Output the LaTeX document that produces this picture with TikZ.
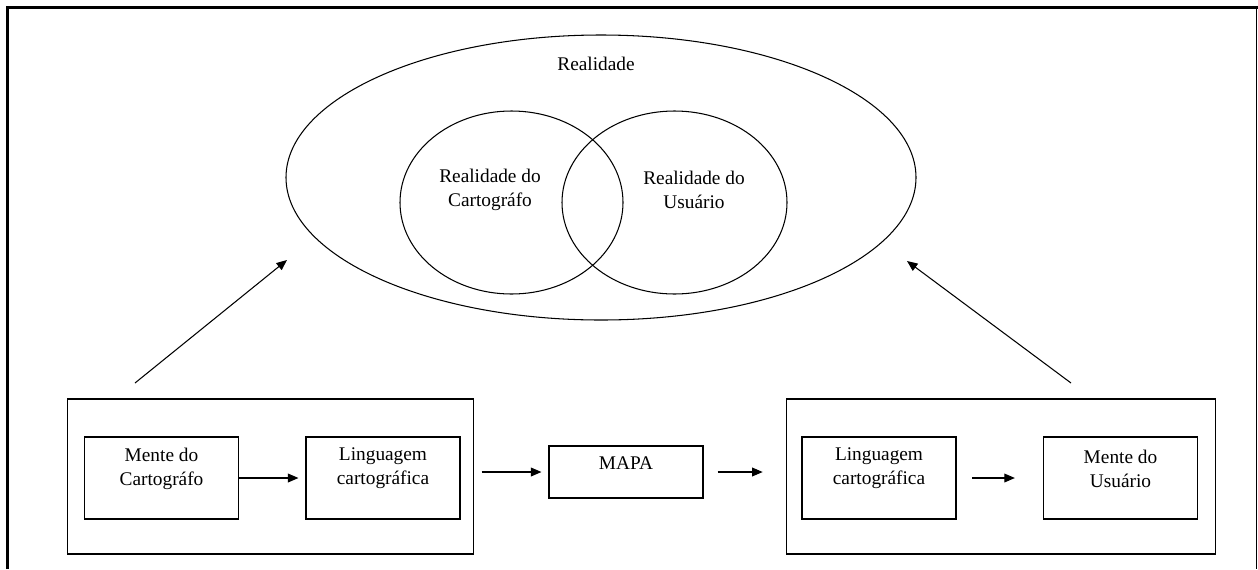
\documentclass[tikz,border=0pt]{standalone}
\usepackage{fontspec}
\setmainfont{Liberation Serif}
\usetikzlibrary{arrows.meta}
\tikzset{
  box/.style={draw, line width=0.6pt, minimum width=3.08cm, minimum height=1.64cm, inner sep=0pt},
  bigbox/.style={draw, line width=0.6pt, minimum height=3.1cm, inner sep=0pt},
  lbl/.style={align=center, inner sep=1pt, font=\fontsize{11}{13.6}\selectfont},
  arr/.style={line width=0.6pt, -{Triangle[length=6pt,width=5pt]}}
}
\begin{document}
\begin{tikzpicture}[x=0.02cm, y=-0.02cm]
\useasboundingbox (0,0) rectangle (1258,569);
\draw[line width=1.2pt] (7.5,569) -- (7.5,7.5) -- (1258,7.5);
\draw[line width=0.6pt] (1256.5,7.5) -- (1256.5,569);

\draw[line width=0.6pt] (601,177.5) ellipse (315 and 142.5);
\draw[line width=0.6pt] (511.5,202.5) ellipse (111.5 and 91.5);
\draw[line width=0.6pt] (674.5,202.5) ellipse (112.5 and 91.5);
\node[lbl] (real) at (596,64) {Realidade};
\node[lbl] (realc) at (490,190) {Realidade do\\Cartográfo};
\node[lbl] (realu) at (694,190) {Realidade do\\Usuário};

\node[bigbox, minimum width=8.14cm] (bigl) at (270.5,476.5) {};
\node[bigbox, minimum width=8.6cm] (bigr) at (1001,476.5) {};
\node[box] (mc) at (161.5,478) {};
\node[box] (lc) at (383,478) {};
\node[box, minimum height=1.04cm] (mapa) at (626,472) {};
\node[box] (lu) at (879,478) {};
\node[box] (mu) at (1120.5,478) {};

\node[lbl] (mctxt) at ([yshift=0.19cm]mc.center) {Mente do\\Cartográfo};
\node[lbl] (lctxt) at ([yshift=0.19cm]lc.center) {Linguagem\\cartográfica};
\node[lbl] (mapatxt) at ([yshift=0.18cm]mapa.center) {MAPA};
\node[lbl] (lutxt) at ([yshift=0.19cm]lu.center) {Linguagem\\cartográfica};
\node[lbl] (mutxt) at ([yshift=0.19cm]mu.center) {Mente do\\Usuário};

\draw[arr, shorten >=4] (mc.east) -- (lc.west);
\draw[arr, shorten <=4, shorten >=4] (bigl.east |- mapa.center) -- (mapa.west);
\draw[arr, shorten <=8, shorten >=13] (mapa.east) -- (bigr.west |- mapa.center);
\draw[arr, shorten <=9, shorten >=16] (lu.east) -- (mu.west);

\coordinate (ls) at (135,383);
\coordinate (le) at (287,260);
\coordinate (rs) at (1071,383);
\coordinate (re) at (907,261);
\draw[arr] (ls) -- (le);
\draw[arr] (rs) -- (re);
\end{tikzpicture}
\end{document}
